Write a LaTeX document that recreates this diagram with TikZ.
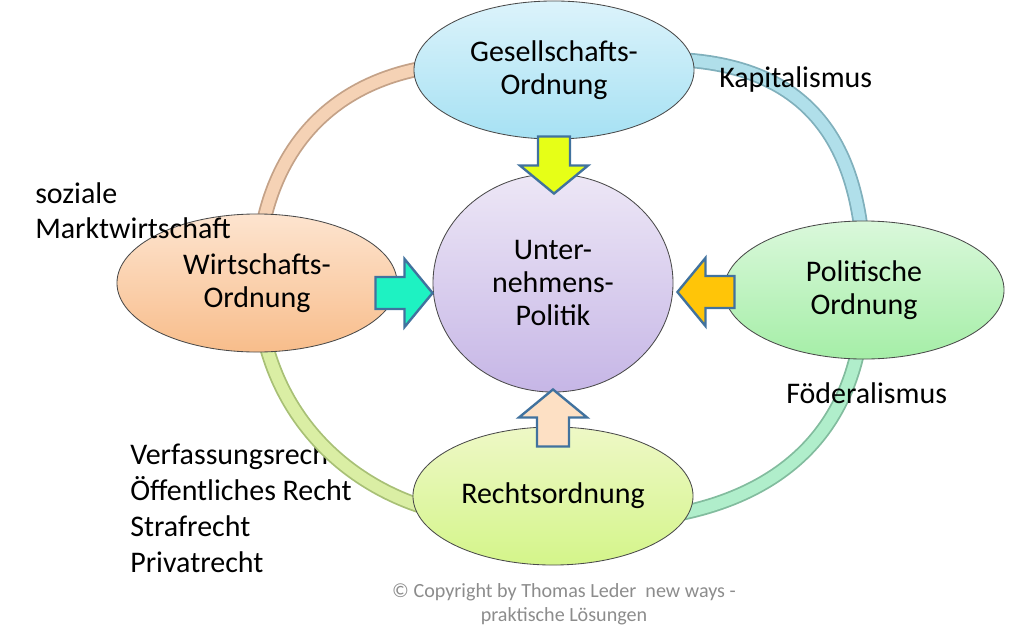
\documentclass[tikz,border=0pt]{standalone}
\usepackage{fontspec}
\setmainfont{Carlito}
\usetikzlibrary{calc,shapes.geometric}
\definecolor{rimgray}{HTML}{4A4A4A}
\definecolor{gesTop}{HTML}{DCF3FB}
\definecolor{gesBot}{HTML}{A6E1F3}
\definecolor{wirtTop}{HTML}{FDE4CF}
\definecolor{wirtBot}{HTML}{F8BD8B}
\definecolor{polTop}{HTML}{DAF8DB}
\definecolor{polBot}{HTML}{A5EEA7}
\definecolor{rechtTop}{HTML}{EEF8C6}
\definecolor{rechtBot}{HTML}{D4F58A}
\definecolor{untTop}{HTML}{EDE7F6}
\definecolor{untBot}{HTML}{C6B6E6}
\definecolor{pfeilblau}{HTML}{41729E}
\definecolor{pfeilgelb}{HTML}{E6FF17}
\definecolor{pfeiltuerkis}{HTML}{1EF2C2}
\definecolor{pfeilgold}{HTML}{FFC508}
\definecolor{pfeilpfirsich}{HTML}{FDE0C4}
\definecolor{ringPeach}{HTML}{F5D2B5}
\definecolor{ringPeachDk}{HTML}{C4A288}
\definecolor{ringBlau}{HTML}{B0DFEA}
\definecolor{ringBlauDk}{HTML}{80B0BC}
\definecolor{ringGruen}{HTML}{B0EECB}
\definecolor{ringGruenDk}{HTML}{82BC9E}
\definecolor{ringGelb}{HTML}{DAEEA4}
\definecolor{ringGelbDk}{HTML}{A8C076}
\definecolor{copygray}{HTML}{8C8C8C}
\newcommand{\ringfont}{\fontsize{21.3pt}{23.8pt}\selectfont}
\pgfdeclarelayer{textlayer}
\pgfdeclarelayer{ringlayer}
\pgfsetlayers{textlayer,ringlayer,main}
\tikzset{
  ordnung/.style={ellipse, draw=rimgray, line width=0.6pt, minimum width=7cm, minimum height=3.45cm, inner sep=0pt, align=center, font=\ringfont},
  ringseg/.style={line width=0.045cm, double distance=0.29cm},
  randtext/.style={font=\ringfont, inner sep=0pt, align=left},
  blockpfeil/.style={draw=pfeilblau, line width=1.7pt, line join=miter},
  pics/blockarrow/.style={code={\path[pic actions] (0,0) -- (-28,-34) -- (-28,-16) -- (-57,-16) -- (-57,16) -- (-28,16) -- (-28,34) -- cycle;}}
}

\begin{document}
\begin{tikzpicture}[x=0.025cm, y=-0.025cm]
    \useasboundingbox (0,0) rectangle (1020,632);

    % Ordnungen rund um die Unternehmenspolitik
    \node[ordnung, top color=gesTop, bottom color=gesBot] (ges) at (554,70) {Gesellschafts-\\Ordnung};
    \node[ordnung, top color=wirtTop, bottom color=wirtBot] (wirt) at (257,283) {Wirtschafts-\\Ordnung};
    \node[ordnung, top color=polTop, bottom color=polBot] (pol) at (864,290) {Politische\\Ordnung};
    \node[ordnung, top color=rechtTop, bottom color=rechtBot] (recht) at (553,496) {Rechtsordnung};
    \node[ordnung, top color=untTop, bottom color=untBot, minimum width=6cm, minimum height=5.45cm] (unt) at (553,283) {Unter-\\nehmens-\\Politik};

    % Ring zwischen den Ordnungen
    \begin{pgfonlayer}{ringlayer}
        \draw[ringseg, draw=ringPeachDk, double=ringPeach] (wirt.center) .. controls (258,140) and (350,35) .. (ges.center);
        \draw[ringseg, draw=ringBlauDk, double=ringBlau] (ges.center) .. controls (770,30) and (867,100) .. (pol.center);
        \draw[ringseg, draw=ringGruenDk, double=ringGruen] (pol.center) .. controls (864,420) and (790,500) .. ($(recht.center)+(100,22)$);
        \draw[ringseg, draw=ringGelbDk, double=ringGelb] ($(recht.center)+(-100,18)$) .. controls (370,500) and (262,430) .. (wirt.center);
    \end{pgfonlayer}

    % Stichworte
    \node[randtext, anchor=west] (kap) at (719,79.5) {Kapitalismus};
    \node[randtext, anchor=west] (foed) at (786,393.5) {Föderalismus};
    \node[randtext, anchor=west, font=\fontsize{21.3pt}{24.8pt}\selectfont] (sozm) at (35,211) {soziale\\Marktwirtschaft};
    \begin{pgfonlayer}{textlayer}
        \node[randtext, anchor=west, font=\fontsize{21.3pt}{25.6pt}\selectfont] (rlist) at (130,508.5) {Verfassungsrecht\\Öffentliches Recht\\Strafrecht\\Privatrecht};
    \end{pgfonlayer}

    % Pfeile zur Mitte
    \pic[blockpfeil, fill=pfeilgelb, rotate=-90] at ($(unt.north)+(1,20)$) {blockarrow};
    \pic[blockpfeil, fill=pfeiltuerkis] at ($(unt.west)+(0,10)$) {blockarrow};
    \pic[blockpfeil, fill=pfeilgold, rotate=180] at ($(unt.east)+(4,9)$) {blockarrow};
    \pic[blockpfeil, fill=pfeilpfirsich, rotate=90] at ($(unt.south)+(0,-3)$) {blockarrow};

    \node[align=center, text=copygray, font=\fontsize{14.3pt}{17pt}\selectfont, inner sep=0pt] (copy) at (564,604) {© Copyright by Thomas Leder\ \ new ways -\\praktische Lösungen};
\end{tikzpicture}
\end{document}
